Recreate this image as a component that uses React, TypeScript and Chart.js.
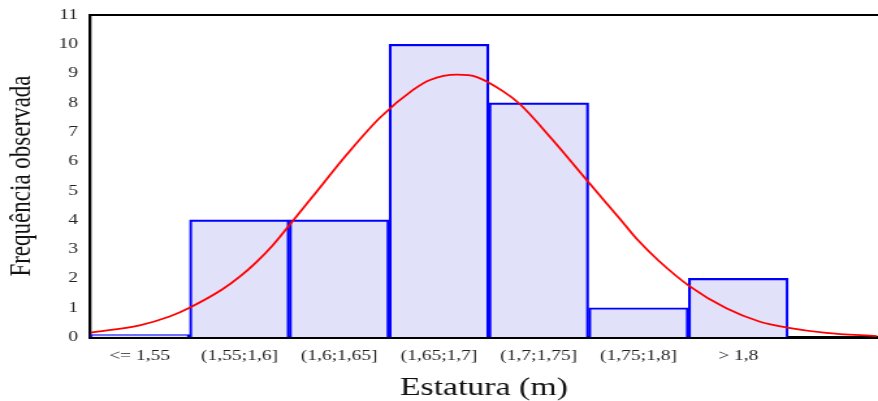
import React, { useEffect, useRef } from "react";
import { Chart, registerables } from "chart.js";

Chart.register(...registerables);

const categories = ["<= 1,55", "(1,55;1,6]", "(1,6;1,65]", "(1,65;1,7]", "(1,7;1,75]", "(1,75;1,8]", "> 1,8"];
const observed = [0.08, 4, 4, 10, 8, 1, 2];
// Expected-normal curve: position in class units, frequency
const curveX = [0.01, 0.5, 0.8, 1.0, 1.33, 1.5, 1.67, 1.83, 2.0, 2.23, 2.58, 2.91, 3.24, 3.41, 3.68, 3.88, 4.14, 4.31, 4.64, 5.01, 5.31, 5.49, 5.71, 6.01, 6.38, 6.71, 6.99, 7.38, 7.89];
const curveY = [0.15, 0.4, 0.7, 1.0, 1.63, 2.05, 2.56, 3.12, 3.82, 4.78, 6.25, 7.5, 8.44, 8.78, 8.96, 8.88, 8.4, 7.96, 6.73, 5.24, 4.05, 3.32, 2.58, 1.74, 0.98, 0.53, 0.32, 0.14, 0.03];
const yTicks = [0, 1, 2, 3, 4, 5, 6, 7, 8, 9, 10, 11];

const STRETCH = 878 / 675;

export default function App() {
  const ref = useRef<HTMLCanvasElement>(null);
  useEffect(() => {
    document.body.style.margin = "0";
    document.body.style.overflow = "hidden";
    const ctx = ref.current!;
    const serif = "'Liberation Serif', 'Times New Roman', serif";
    const chart = new Chart(ctx, {
      type: "bar",
      data: {
        datasets: [
          {
            type: "line",
            data: curveX.map((x, i) => ({ x, y: curveY[i] })),
            borderColor: "#ff0000",
            borderWidth: 1.8,
            pointRadius: 0,
            cubicInterpolationMode: "monotone",
            fill: false,
            xAxisID: "x",
            order: 0,
          } as any,
          {
            type: "bar",
            data: observed.map((y, i) => ({ x: i + 0.5, y })),
            backgroundColor: "#e1e1fa",
            borderColor: "#0000ff",
            borderWidth: 2.2,
            barPercentage: 1,
            categoryPercentage: 1,
            xAxisID: "x",
            order: 1,
          } as any,
        ],
      },
      options: {
        animation: false,
        responsive: false,
        maintainAspectRatio: false,
        layout: { padding: { left: 0, right: 0, top: 0, bottom: 0 } },
        plugins: { legend: { display: false }, tooltip: { enabled: false } },
        scales: {
          x: {
            type: "linear",
            position: "bottom",
            min: 0,
            max: 7.9,
            offset: false,
            afterBuildTicks: (scale: any) => {
              scale.ticks = categories.map((_, i) => ({ value: i + 0.5 }));
            },
            ticks: {
              autoSkip: false,
              maxRotation: 0,
              padding: 10,
              color: "#222",
              font: { family: serif, size: 15 },
              callback: (v: any) => {
                const i = Math.round(Number(v) - 0.5);
                return categories[i] ?? "";
              },
            },
            grid: { display: false, drawTicks: false },
            border: { display: true, color: "#000", width: 3 },
            title: {
              display: true,
              text: "Estatura (m)",
              color: "#111",
              font: { family: serif, size: 26 },
              padding: { top: -3, bottom: -3 },
            },
            afterFit: (scale: any) => {
              scale.height = 64;
            },
          },
          x2: {
            type: "linear",
            position: "top",
            min: 0,
            max: 7.9,
            ticks: { display: false, stepSize: 1 },
            grid: { display: false, drawTicks: false },
            border: { display: true, color: "#000", width: 2 },
            afterFit: (scale: any) => {
              scale.height = 15;
            },
          },
          y: {
            type: "linear",
            min: 0,
            max: 11,
            afterBuildTicks: (scale: any) => {
              scale.ticks = yTicks.map((value) => ({ value }));
            },
            ticks: {
              padding: 9,
              color: "#222",
              font: { family: serif, size: 15 },
            },
            grid: { display: false, drawTicks: false },
            border: { display: true, color: "#000", width: 2.3 },
            title: {
              display: true,
              text: "Frequência observada",
              color: "#111",
              font: { family: serif, size: 23 },
              padding: { top: 3, bottom: 0 },
            },
            afterFit: (scale: any) => {
              scale.width = 69;
              scale.paddingTop = 5;
              scale.paddingBottom = 5;
            },
          },
        },
      } as any,
    });
    return () => chart.destroy();
  }, []);
  return (
    <div style={{ width: 878, height: 401, overflow: "hidden" }}>
      <div style={{ width: 675, height: 401, transform: `scaleX(${STRETCH})`, transformOrigin: "0 0" }}>
        <canvas ref={ref} width={675} height={401} style={{ display: "block" }} />
      </div>
    </div>
  );
}
